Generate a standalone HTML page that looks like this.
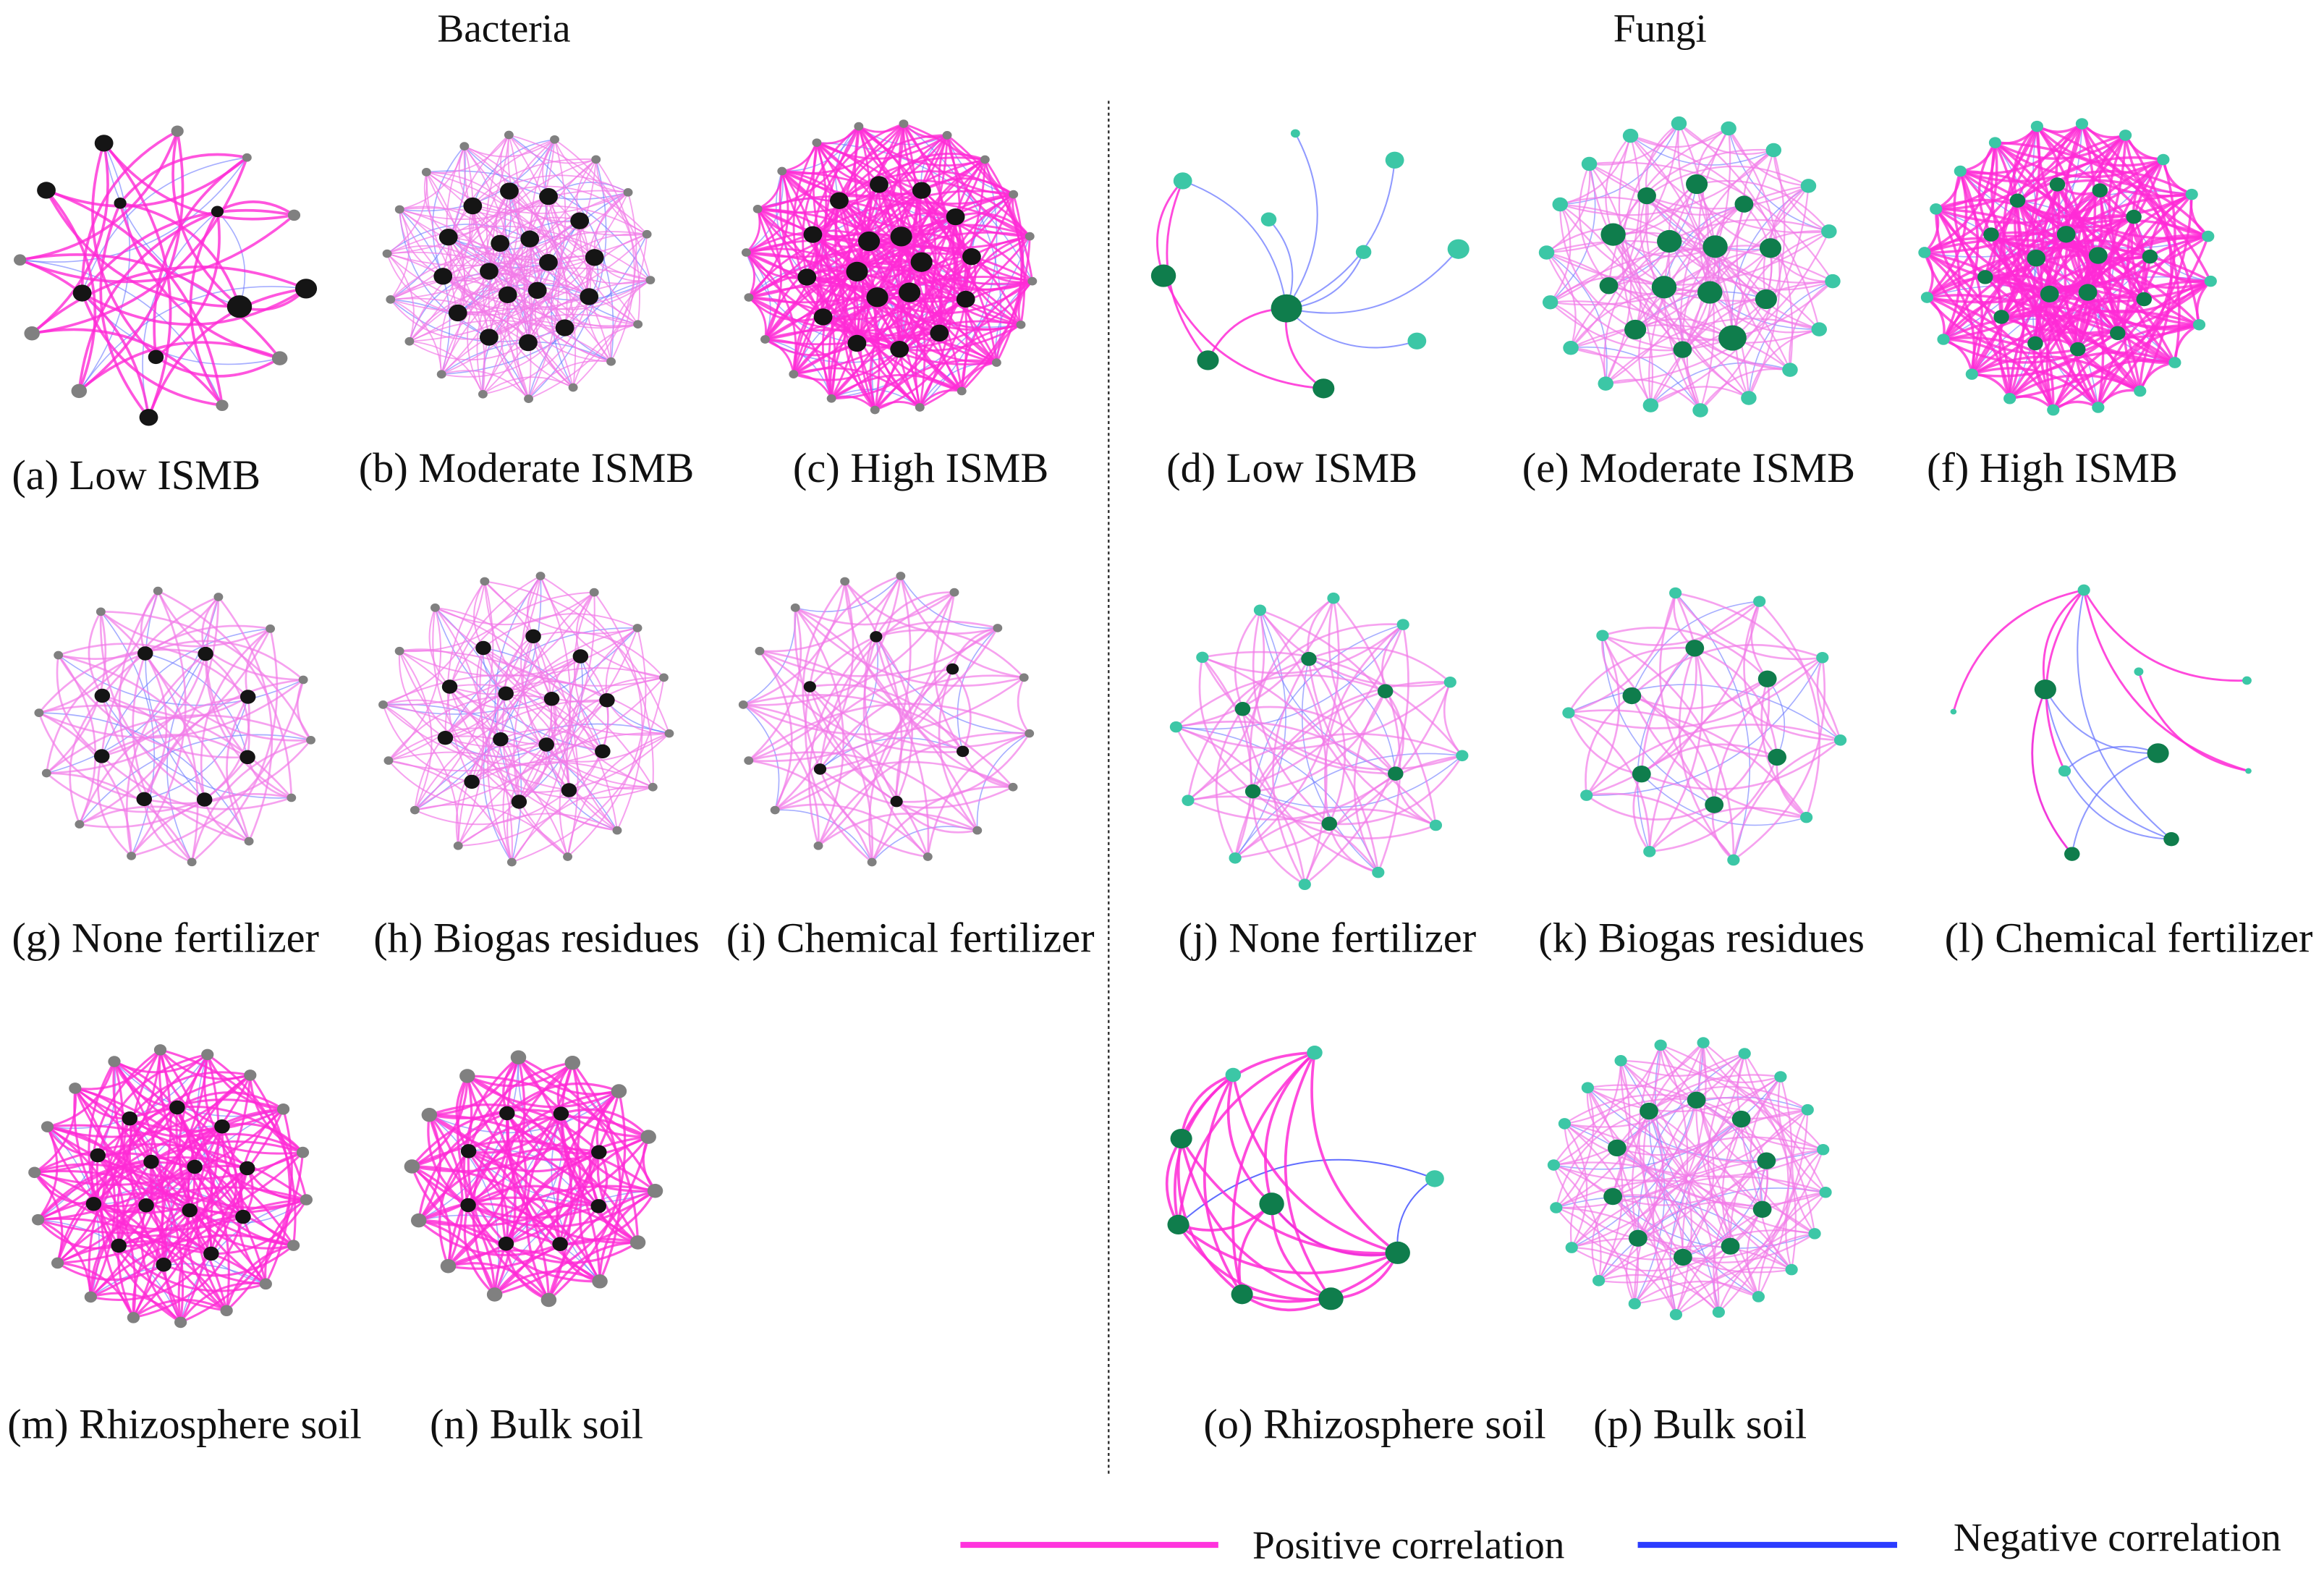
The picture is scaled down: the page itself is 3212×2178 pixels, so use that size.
<!DOCTYPE html>
<html><head><meta charset="utf-8">
<style>
html,body{margin:0;padding:0;background:#fff;}
svg{display:block;}
text{font-family:"Liberation Serif",serif;fill:#111;}
</style></head>
<body>
<svg id="fig" width="3212" height="2178" viewBox="0 0 1568 1063" preserveAspectRatio="none" xmlns="http://www.w3.org/2000/svg">
<rect x="0" y="0" width="1568" height="1063" fill="#fff"/>
<text x="340" y="28" font-size="27" text-anchor="middle">Bacteria</text>
<text x="1120" y="28" font-size="27" text-anchor="middle">Fungi</text>
<line x1="748" y1="68" x2="748" y2="995" stroke="#333" stroke-width="1.2" stroke-dasharray="2,2"/>
<g id="nets"></g>
<g font-size="28.5">
<text x="8" y="330">(a) Low ISMB</text>
<text x="242" y="325">(b) Moderate ISMB</text>
<text x="535" y="325">(c) High ISMB</text>
<text x="787" y="325">(d) Low ISMB</text>
<text x="1027" y="325">(e) Moderate ISMB</text>
<text x="1300" y="325">(f) High ISMB</text>
<text x="8" y="642">(g) None fertilizer</text>
<text x="252" y="642">(h) Biogas residues</text>
<text x="490" y="642">(i) Chemical fertilizer</text>
<text x="795" y="642">(j) None fertilizer</text>
<text x="1038" y="642">(k) Biogas residues</text>
<text x="1312" y="642">(l) Chemical fertilizer</text>
<text x="5" y="970">(m) Rhizosphere soil</text>
<text x="290" y="970">(n) Bulk soil</text>
<text x="812" y="970">(o) Rhizosphere soil</text>
<text x="1075" y="970">(p) Bulk soil</text>
</g>
<g>
<line x1="648" y1="1042" x2="822" y2="1042" stroke="#ff33dd" stroke-width="4"/>
<text x="845" y="1051" font-size="27">Positive correlation</text>
<line x1="1105" y1="1042" x2="1280" y2="1042" stroke="#2b3cff" stroke-width="4"/>
<text x="1318" y="1046" font-size="27">Negative correlation</text>
</g>
</svg>
<script>
const panelIds = ["a","b","c","e","f","g","h","i","j","k","m","n","p"];
const panelCx = [110,350,600,1140,1395,118,355,598,890,1150,115,360,1140];
const panelCy = [185,180,180,180,180,490,485,485,500,490,800,795,795];
const panelR = [100,92,100,100,100,95,100,100,100,95,95,85,95];
const panelFungi = [0,0,0,1,1,0,0,0,1,1,0,0,1];
const panelLight = [0,1,0,1,0,1,1,1,1,1,0,0,1];
const outerSizes = [
 [7,5,4,6,5,5,4,6,6,4,3,4],
 [3,3,3,3,3,3,3,3,3,3,3,3,3,3,3,3,3,3],
 [3,3,3,3,3,3,3,3,3,3,3,3,3,3,3,3,3,3,3,3],
 [5,5,5,5,5,5,5,5,5,5,5,5,5,5,5,5,5,5],
 [4,4,4,4,4,4,4,4,4,4,4,4,4,4,4,4,4,4,4,4],
 [3,3,3,3,3,3,3,3,3,3,3,3,3,3],
 [3,3,3,3,3,3,3,3,3,3,3,3,3,3,3,3],
 [3,3,3,3,3,3,3,3,3,3,3,3,3,3,3,3],
 [4,4,4,4,4,4,4,4,4,4,4,4],
 [4,4,4,4,4,4,4,4,4,4],
 [4,4,4,4,4,4,4,4,4,4,4,4,4,4,4,4,4,4],
 [5,5,5,5,5,5,5,5,5,5,5,5,5,5],
 [4,4,4,4,4,4,4,4,4,4,4,4,4,4,4,4,4,4,4,4]
];
const midSizes = [
 [8,5,6,4,4],
 [6,6,6,6,6,6,6,6,6,6,6,6],
 [6,6,6,6,6,6,6,6,6,6,6,6],
 [7,9,6,7,6,8,6,7,6,7],
 [5,5,5,5,5,5,5,5,5,5,5,5],
 [5,5,5,5,5,5,5,5],
 [5,5,5,5,5,5,5,5,5,5],
 [4,4,4,4,4,4],
 [5,5,5,5,5,5],
 [6,6,6,6,6,6],
 [5,5,5,5,5,5,5,5,5,5],
 [5,5,5,5,5,5,5,5],
 [6,6,6,6,6,6,6,6,6,6]
];
const innerSizes = [[],[6,6,6,6,6,6],[7,7,7,7,7,7],[8,8,8,8],[6,6,6,6,6],[],[5,5,5,5],[],[],[],[5,5,5,5],[],[]];
const posOffsets = [[3,5],[2,5,7,9,13],[1,3,5,7,9,11,15],[2,5,8,11],[1,3,4,6,9,13],[3,6,9],[3,5,8,11],[3,5,7],[3,5,7],[2,4,7],[2,5,7,9,13],[2,3,5,7,9],[3,5,8,13]];
const negOffsets = [[4],[4,11],[2,13],[3],[7],[5],[6],[2],[4],[5],[4],[4],[7]];
const edgeWidth = [1.8,0.9,1.4,1.1,1.7,1.3,1.0,1.3,1.3,1.3,1.5,1.6,1.1];

const nodesD = [[868,208,10,1],[798,122,6,0],[856,148,5,0],[941,108,6,0],[920,170,5,0],[984,168,7,0],[956,230,6,0],[785,186,8,1],[815,243,7,1],[893,262,7,1],[874,90,3,0]];
const posD = [[1,8],[7,9],[0,8],[0,9],[1,7]];
const negD = [[0,1],[0,2],[0,3],[0,4],[0,5],[0,6],[0,10]];
const nodesL = [[1406,398,4,0],[1380,465,7,1],[1456,508,7,1],[1393,520,4,0],[1465,566,5,1],[1398,576,5,1],[1443,453,3,0],[1516,459,3,0],[1318,480,2,0],[1517,520,2,0]];
const posL = [[0,1],[0,3],[0,7],[6,9],[0,8],[1,5],[0,9]];
const negL = [[1,2],[1,4],[1,5],[2,5],[0,4],[2,3],[3,4]];
const nodesO = [[887,710,5,0],[832,725,5,0],[797,768,7,1],[795,826,7,1],[858,812,8,1],[838,873,7,1],[898,876,8,1],[943,845,8,1],[968,795,6,0]];
const posO = [[0,2],[0,3],[0,4],[0,6],[0,7],[1,2],[1,3],[1,4],[1,5],[2,3],[2,5],[2,6],[2,7],[3,4],[3,6],[3,7],[4,5],[4,6],[4,7],[5,6],[5,7],[6,7],[1,7],[0,5]];
const negO = [[8,7],[4,7],[8,3]];

const NS = "http://www.w3.org/2000/svg";
const root = document.getElementById("nets");
const PINK = "#ff2ad6", LPINK = "#f27ae8", BLUE = "#6b78ff";

function drawEdge(g, p, q, color, w, op, id) {
  const mx = (p[0]+q[0])/2, my = (p[1]+q[1])/2;
  const dx = q[0]-p[0], dy = q[1]-p[1];
  const cx = mx - dy*0.3, cy = my + dx*0.3;
  const e = document.createElementNS(NS, "path");
  e.setAttribute("d", `M${p[0]},${p[1]} Q${cx},${cy} ${q[0]},${q[1]}`);
  e.setAttribute("fill", "none");
  e.setAttribute("stroke", color);
  e.setAttribute("stroke-width", w);
  e.setAttribute("stroke-opacity", op);
  
  
  g.appendChild(e);
}
function drawNode(g, n, fungi, id) {
  const c = document.createElementNS(NS, "ellipse");
  c.setAttribute("cx", n[0]); c.setAttribute("cy", n[1]);
  c.setAttribute("rx", n[2]*1.05); c.setAttribute("ry", n[2]*0.95);
  let col;
  if (fungi) col = n[3] ? "#0f7d4c" : "#3cc7a6";
  else col = n[3] ? "#151515" : "#808080";
  c.setAttribute("fill", col);
  
  
  g.appendChild(c);
}

panelIds.forEach((pid, k) => {
  const g = document.createElementNS(NS, "g");
  
  
  root.appendChild(g);
  const nodes = [];
  const rings = [[outerSizes[k], 0.97, 0, 0.1], [midSizes[k], 0.56, 1, 0.4], [innerSizes[k], 0.22, 1, 0.9]];
  rings.forEach(([sizes, rad, dark, rot]) => {
    sizes.forEach((s, i) => {
      const a = rot + 2*Math.PI*i/sizes.length;
      nodes.push([panelCx[k] + panelR[k]*rad*Math.cos(a), panelCy[k] + panelR[k]*rad*Math.sin(a), s, dark || s >= 6 ? 1 : 0]);
    });
  });
  const N = nodes.length;
  const pc = panelLight[k] ? LPINK : PINK;
  const po = panelLight[k] ? 0.7 : 0.8;
  negOffsets[k].forEach(o => nodes.forEach((n, i) => { if (i % 2 === 0) drawEdge(g, n, nodes[(i+o)%N], BLUE, 0.8, 0.6, 'negative-edge'); }));
  posOffsets[k].forEach(o => nodes.forEach((n, i) => drawEdge(g, n, nodes[(i+o)%N], pc, edgeWidth[k], po, 'positive-edge')));
  nodes.forEach(n => drawNode(g, n, panelFungi[k], 'node'));
});

[["d", nodesD, posD, negD], ["l", nodesL, posL, negL], ["o", nodesO, posO, negO]].forEach(([pid, nodes, pos, neg]) => {
  const g = document.createElementNS(NS, "g");
  
  
  root.appendChild(g);
  neg.forEach(([a, b]) => drawEdge(g, nodes[a], nodes[b], pid === "o" ? "#2b3cff" : BLUE, 1.0, 0.75, 'negative-edge'));
  pos.forEach(([a, b]) => drawEdge(g, nodes[a], nodes[b], PINK, pid === "o" ? 1.8 : 1.4, 0.85, 'positive-edge'));
  nodes.forEach(n => drawNode(g, n, 1, 'node'));
});
</script>
</body></html>
